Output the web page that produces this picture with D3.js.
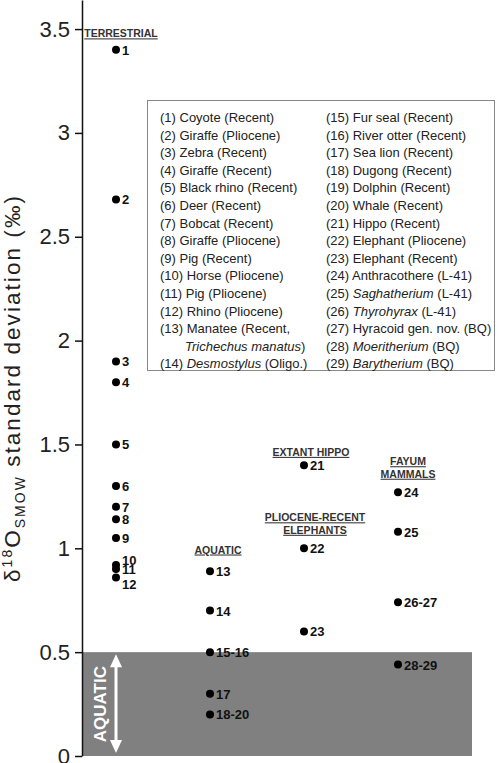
<!DOCTYPE html>
<html><head><meta charset="utf-8">
<script src="https://cdn.jsdelivr.net/npm/d3@7"></script>
<style>
body{margin:0;background:#fff;}
svg{display:block;font-family:"Liberation Sans",Arial,sans-serif;}
</style></head><body>
<svg id="c" width="498" height="763"></svg>
<script>
// ---- data ----
const groups = ["TERRESTRIAL","AQUATIC","HIPPO_ELEPHANT","FAYUM"];
const terrestrialLabels = ["1","2","3","4","5","6","7","8","9","10","11","12"];
const terrestrialValues = [3.40,2.68,1.90,1.80,1.50,1.30,1.20,1.14,1.05,0.92,0.90,0.86];
const aquaticLabels = ["13","14","15-16","17","18-20"];
const aquaticValues = [0.89,0.70,0.50,0.30,0.20];
const hippoElephantLabels = ["21","22","23"];
const hippoElephantValues = [1.40,1.00,0.60];
const fayumLabels = ["24","25","26-27","28-29"];
const fayumValues = [1.27,1.08,0.74,0.44];
const yTicks = [0,0.5,1,1.5,2,2.5,3,3.5];
const aquaticThreshold = 0.5;
const legendLeft = [
  [["(1) Coyote (Recent)",0]],
  [["(2) Giraffe (Pliocene)",0]],
  [["(3) Zebra (Recent)",0]],
  [["(4) Giraffe (Recent)",0]],
  [["(5) Black rhino (Recent)",0]],
  [["(6) Deer (Recent)",0]],
  [["(7) Bobcat (Recent)",0]],
  [["(8) Giraffe (Pliocene)",0]],
  [["(9) Pig (Recent)",0]],
  [["(10) Horse (Pliocene)",0]],
  [["(11) Pig (Pliocene)",0]],
  [["(12) Rhino (Pliocene)",0]],
  [["(13) Manatee (Recent,",0]],
  [["Trichechus manatus",1],[")",0]],
  [["(14) ",0],["Desmostylus",1],[" (Oligo.)",0]]
];
const legendRight = [
  [["(15) Fur seal (Recent)",0]],
  [["(16) River otter (Recent)",0]],
  [["(17) Sea lion (Recent)",0]],
  [["(18) Dugong (Recent)",0]],
  [["(19) Dolphin (Recent)",0]],
  [["(20) Whale (Recent)",0]],
  [["(21) Hippo (Recent)",0]],
  [["(22) Elephant (Pliocene)",0]],
  [["(23) Elephant (Recent)",0]],
  [["(24) Anthracothere (L-41)",0]],
  [["(25) ",0],["Saghatherium",1],[" (L-41)",0]],
  [["(26) ",0],["Thyrohyrax",1],[" (L-41)",0]],
  [["(27) Hyracoid gen. nov. (BQ)",0]],
  [["(28) ",0],["Moeritherium",1],[" (BQ)",0]],
  [["(29) ",0],["Barytherium",1],[" (BQ)",0]]
];

// ---- chart ----
const svg = d3.select("#c");
const axisX = 82, plotRight = 472, yBottom = 756;
const y = d3.scaleLinear().domain([0,3.64]).range([yBottom,0]);
const x = d3.scalePoint().domain(groups).range([116,398]);

// gray aquatic band
svg.append("rect").attr("x",axisX).attr("y",y(aquaticThreshold))
  .attr("width",plotRight-axisX).attr("height",y(0)-y(aquaticThreshold))
  .attr("fill","#808080");

// axis
const ax = svg.append("g").attr("transform",`translate(${axisX},0)`)
  .call(d3.axisLeft(y).tickValues(yTicks).tickSize(7).tickSizeOuter(0).tickPadding(5)
    .tickFormat(d=>String(d)));
ax.select(".domain").attr("stroke","#111").attr("stroke-width",1.5);
ax.selectAll(".tick line").attr("stroke","#111").attr("stroke-width",1.5);
ax.selectAll(".tick text").attr("font-size",22).attr("fill","#222")
  .attr("font-family","'Liberation Sans',Arial,sans-serif");

// y label
const yl = svg.append("text").attr("transform","rotate(-90)")
  .attr("x",-388).attr("y",20).attr("text-anchor","middle").attr("fill","#222")
  .attr("font-size",22.5);
yl.append("tspan").text("δ");
yl.append("tspan").attr("font-size","0.62em").attr("dy",-8).text("18");
yl.append("tspan").attr("dy",8).text("O");
yl.append("tspan").attr("font-size","0.62em").attr("dy",5).text("SMOW");
yl.append("tspan").attr("dy",-5).text(" standard deviation (‰)");
{
  const L = yl.node().getComputedTextLength();
  const n = yl.text().length;
  yl.attr("letter-spacing", Math.max(0,(388-L)/n));
}

// white arrow + AQUATIC label
const arrX = x("TERRESTRIAL");
const aTop = y(aquaticThreshold)+2, aBot = y(0)-3;
svg.append("line").attr("x1",arrX).attr("x2",arrX).attr("y1",aTop+10).attr("y2",aBot-10)
  .attr("stroke","#fff").attr("stroke-width",3);
svg.append("path").attr("d",`M${arrX},${aTop} L${arrX-6},${aTop+13} L${arrX+6},${aTop+13} Z`).attr("fill","#fff");
svg.append("path").attr("d",`M${arrX},${aBot} L${arrX-6},${aBot-13} L${arrX+6},${aBot-13} Z`).attr("fill","#fff");
svg.append("text").attr("transform",`translate(${arrX-10},${(y(aquaticThreshold)+y(0))/2}) rotate(-90)`)
  .attr("text-anchor","middle").attr("fill","#fff").attr("font-weight","bold")
  .attr("font-size",17).text("AQUATIC");

// headers
function header(lines, cx, vy){
  lines.forEach((t,i)=>{
    svg.append("text").attr("x",cx).attr("y",y(vy)+i*12.5).attr("text-anchor","middle")
      .attr("font-size",10.5).attr("font-weight","bold").attr("fill","#333")
      .attr("text-decoration","underline").text(t);
  });
}
header(["TERRESTRIAL"], x("TERRESTRIAL")+5, 3.46);
header(["AQUATIC"], x("AQUATIC")+8, 0.975);
header(["EXTANT HIPPO"], x("HIPPO_ELEPHANT")+7, 1.445);
header(["PLIOCENE-RECENT","ELEPHANTS"], x("HIPPO_ELEPHANT")+11, 1.13);
header(["FAYUM","MAMMALS"], x("FAYUM")+10, 1.40);

// points
const labelDy = {"10":-5,"11":0,"12":7};
function series(g, labels, values){
  const gx = x(g);
  const sel = svg.append("g");
  sel.selectAll("circle").data(values).join("circle")
    .attr("cx",gx).attr("cy",d=>y(d)).attr("r",4).attr("fill","#000");
  sel.selectAll("text").data(labels).join("text")
    .attr("x",gx+6).attr("y",(d,i)=>y(values[i])+5+(labelDy[d]||0))
    .attr("font-size",13).attr("font-weight","bold").attr("fill","#111")
    .text(d=>d);
}
series("TERRESTRIAL", terrestrialLabels, terrestrialValues);
series("AQUATIC", aquaticLabels, aquaticValues);
series("HIPPO_ELEPHANT", hippoElephantLabels, hippoElephantValues);
series("FAYUM", fayumLabels, fayumValues);

// legend
const lg = svg.append("g");
lg.append("rect").attr("x",147.5).attr("y",100.5).attr("width",347).attr("height",270)
  .attr("fill","#fff").attr("stroke","#888").attr("stroke-width",1);
function legendCol(rows, lx){
  rows.forEach((parts,i)=>{
    const t = lg.append("text").attr("x", (parts[0][1]===1 && i===13) ? lx+25 : lx)
      .attr("y",122+i*17.6).attr("font-size",13).attr("fill","#222");
    parts.forEach(p=>t.append("tspan").attr("font-style",p[1]?"italic":"normal").text(p[0]));
  });
}
legendCol(legendLeft,160);
legendCol(legendRight,326);
</script>
</body></html>
